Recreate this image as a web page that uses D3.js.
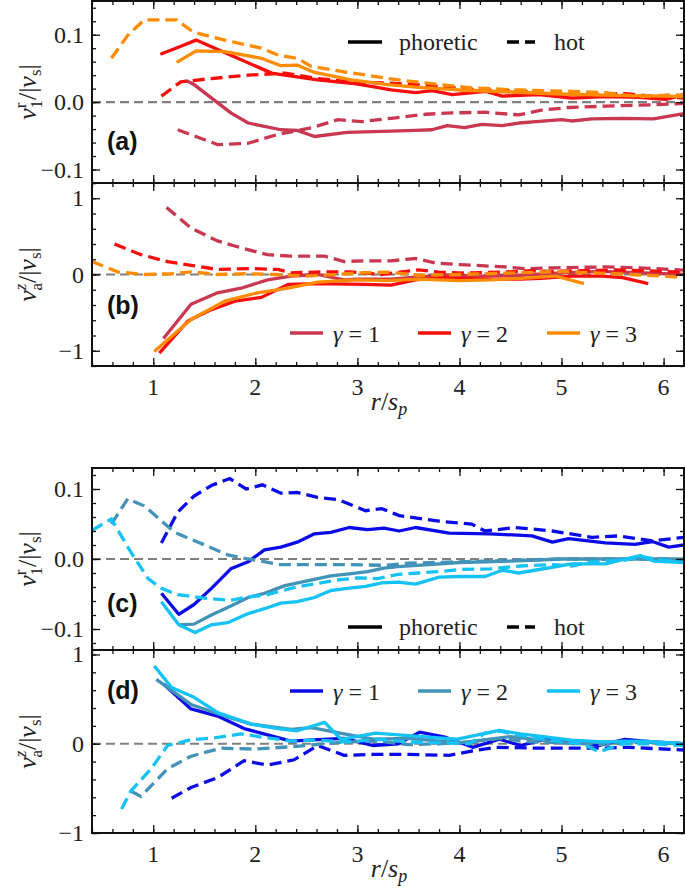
<!DOCTYPE html>
<html><head><meta charset="utf-8">
<script src="https://cdn.jsdelivr.net/npm/d3@7"></script>
<style>body{margin:0;background:#fff}svg{display:block}</style>
</head><body>
<script>
// ---------- DATA ----------
const xTicks = [1, 2, 3, 4, 5, 6];
const gammaLabels = ["1", "2", "3"];
const typeLabels = ["phoretic", "hot"];
const yTicksAC = [0.1, 0.0, -0.1];
const yTickLabelsAC = ["0.1", "0.0", "\u22120.1"];
const yTicksBD = [1, 0, -1];
const yTickLabelsBD = ["1", "0", "\u22121"];

// panel (a): v1^r/|vs|, warm colours
const a_phor_g1 = [[1.32,0.032],[1.40,0.026],[1.76,-0.016],[1.93,-0.031],[2.25,-0.041],[2.41,-0.042],[2.58,-0.051],[2.90,-0.045],[3.33,-0.043],[3.57,-0.042],[3.73,-0.041],[3.88,-0.035],[4.05,-0.038],[4.22,-0.033],[4.42,-0.035],[4.58,-0.031],[4.75,-0.029],[5.00,-0.026],[5.10,-0.028],[5.30,-0.025],[5.60,-0.024],[5.90,-0.025],[6.20,-0.017]];
const a_hot_g1 = [[1.24,-0.041],[1.63,-0.063],[1.93,-0.061],[2.22,-0.048],[2.55,-0.038],[2.81,-0.026],[3.04,-0.029],[3.33,-0.024],[3.67,-0.018],[3.93,-0.016],[4.25,-0.015],[4.58,-0.019],[4.80,-0.012],[5.07,-0.008],[5.43,-0.006],[5.88,-0.004],[6.20,-0.002]];
const a_phor_g2 = [[1.07,0.071],[1.24,0.081],[1.42,0.092],[1.80,0.067],[2.16,0.043],[2.29,0.040],[2.61,0.033],[2.94,0.028],[3.15,0.023],[3.33,0.018],[3.57,0.014],[3.73,0.017],[3.93,0.011],[4.26,0.016],[4.42,0.009],[4.78,0.011],[5.10,0.006],[5.43,0.008],[5.76,0.007],[6.02,0.004],[6.20,0.011]];
const a_hot_g2 = [[1.08,0.009],[1.27,0.030],[1.57,0.035],[1.93,0.040],[2.29,0.043],[2.61,0.035],[2.94,0.030],[3.33,0.028],[3.57,0.026],[3.90,0.022],[4.19,0.018],[4.58,0.017],[4.94,0.011],[5.27,0.011],[5.60,0.013],[5.93,0.008],[6.20,0.006]];
const a_phor_g3 = [[1.23,0.059],[1.42,0.076],[1.70,0.075],[2.06,0.065],[2.25,0.054],[2.41,0.055],[2.58,0.044],[2.94,0.033],[3.30,0.026],[3.60,0.022],[4.00,0.018],[4.50,0.015],[5.00,0.012],[5.50,0.010],[6.00,0.009],[6.20,0.008]];
const a_hot_g3 = [[0.59,0.065],[0.75,0.099],[0.91,0.122],[1.23,0.122],[1.39,0.104],[1.70,0.092],[2.06,0.080],[2.22,0.070],[2.41,0.065],[2.55,0.053],[2.87,0.045],[3.30,0.035],[3.57,0.030],[4.12,0.021],[4.58,0.018],[5.10,0.016],[5.43,0.014],[5.76,0.008],[6.08,0.011],[6.20,0.010]];

// panel (b): va^z/|vs|
const b_phor_g1 = [[1.10,-0.84],[1.37,-0.39],[1.63,-0.24],[1.86,-0.18],[2.12,-0.07],[2.35,-0.02],[2.61,0.0],[2.87,-0.07],[3.00,-0.06],[3.33,-0.06],[3.60,-0.03],[3.90,-0.01],[4.20,-0.02],[4.60,-0.01],[5.00,0.02],[5.40,0.04],[5.80,0.02],[6.20,0.0]];
const b_hot_g1 = [[1.13,0.88],[1.37,0.61],[1.63,0.44],[1.86,0.35],[2.12,0.26],[2.35,0.24],[2.68,0.24],[2.87,0.17],[3.07,0.18],[3.33,0.18],[3.57,0.21],[3.77,0.15],[4.00,0.13],[4.45,0.10],[4.65,0.075],[4.94,0.088],[5.43,0.10],[5.76,0.088],[6.20,0.057]];
const b_phor_g2 = [[1.06,-1.03],[1.34,-0.61],[1.57,-0.46],[1.80,-0.35],[2.06,-0.30],[2.32,-0.13],[2.61,-0.12],[3.07,-0.13],[3.33,-0.14],[3.57,-0.07],[3.80,-0.04],[4.00,-0.05],[4.30,-0.06],[4.60,-0.06],[4.80,-0.05],[5.10,-0.02],[5.40,-0.02],[5.60,-0.04],[5.85,-0.12]];
const b_hot_g2 = [[0.62,0.40],[0.88,0.26],[1.14,0.17],[1.37,0.12],[1.63,0.066],[1.96,0.079],[2.22,0.066],[2.35,0.022],[2.68,0.035],[2.94,0.035],[3.23,0.0],[3.60,0.06],[3.80,0.03],[4.00,0.02],[4.40,0.03],[4.70,0.05],[4.90,0.04],[5.20,0.05],[5.50,0.06],[5.80,0.05],[6.20,0.03]];
const b_phor_g3 = [[1.01,-1.01],[1.37,-0.59],[1.70,-0.35],[2.02,-0.24],[2.32,-0.18],[2.61,-0.10],[2.99,-0.07],[3.30,-0.08],[3.60,-0.06],[4.00,-0.08],[4.30,-0.07],[4.60,-0.05],[4.94,-0.02],[5.22,-0.12]];
const b_hot_g3 = [[0.40,0.17],[0.65,0.035],[0.92,0.0],[1.18,0.01],[1.37,0.035],[1.63,0.0],[1.90,0.01],[2.20,0.0],[2.50,-0.02],[2.80,0.0],[3.00,0.02],[3.30,0.03],[3.60,-0.01],[4.00,0.0],[4.50,0.02],[5.00,0.04],[5.50,0.01],[6.00,-0.02],[6.20,-0.04]];

// panel (c): v1^r/|vs|, cool colours
const c_phor_g1 = [[1.08,-0.049],[1.25,-0.079],[1.40,-0.065],[1.57,-0.042],[1.76,-0.014],[1.93,-0.004],[2.09,0.013],[2.25,0.017],[2.41,0.024],[2.58,0.036],[2.74,0.038],[2.92,0.045],[3.10,0.042],[3.26,0.044],[3.41,0.040],[3.57,0.045],[3.90,0.037],[4.30,0.036],[4.71,0.033],[4.91,0.024],[5.07,0.029],[5.43,0.023],[5.72,0.021],[5.89,0.025],[6.05,0.017],[6.20,0.020]];
const c_hot_g1 = [[1.08,0.023],[1.24,0.067],[1.40,0.090],[1.57,0.105],[1.75,0.115],[1.91,0.100],[2.07,0.106],[2.25,0.094],[2.41,0.095],[2.61,0.088],[2.81,0.085],[3.08,0.069],[3.24,0.072],[3.41,0.062],[3.80,0.054],[4.12,0.050],[4.25,0.040],[4.55,0.045],[4.91,0.040],[5.30,0.031],[5.56,0.033],[5.89,0.026],[6.20,0.031]];
const c_phor_g2 = [[1.25,-0.094],[1.40,-0.093],[1.57,-0.080],[1.76,-0.067],[1.93,-0.055],[2.09,-0.049],[2.29,-0.038],[2.45,-0.033],[2.74,-0.024],[2.94,-0.021],[3.10,-0.018],[3.26,-0.013],[3.40,-0.011],[3.70,-0.008],[4.00,-0.005],[4.50,-0.003],[5.00,0.0],[5.50,0.0],[6.00,0.0],[6.20,0.0]];
const c_hot_g2 = [[0.59,0.050],[0.75,0.086],[0.91,0.076],[1.21,0.038],[1.44,0.024],[1.73,0.006],[1.93,0.0],[2.25,-0.008],[2.51,-0.008],[2.90,-0.008],[3.26,-0.009],[3.50,-0.006],[4.00,-0.004],[4.50,-0.002],[5.00,0.0],[5.50,0.0],[6.00,0.0],[6.20,-0.002]];
const c_phor_g3 = [[1.08,-0.061],[1.25,-0.094],[1.41,-0.105],[1.57,-0.094],[1.73,-0.091],[1.93,-0.078],[2.09,-0.071],[2.25,-0.063],[2.41,-0.061],[2.58,-0.055],[2.74,-0.045],[2.90,-0.042],[3.08,-0.039],[3.24,-0.034],[3.40,-0.033],[3.57,-0.036],[3.80,-0.026],[4.00,-0.025],[4.25,-0.025],[4.42,-0.016],[4.58,-0.020],[4.78,-0.015],[5.10,-0.007],[5.43,-0.007],[5.77,0.005],[5.90,-0.003],[6.20,-0.005]];
const c_hot_g3 = [[0.40,0.041],[0.59,0.057],[0.78,0.010],[0.95,-0.028],[1.08,-0.042],[1.24,-0.051],[1.50,-0.056],[1.76,-0.059],[1.93,-0.054],[2.09,-0.052],[2.40,-0.040],[2.60,-0.035],[2.80,-0.030],[3.00,-0.027],[3.20,-0.028],[3.40,-0.022],[3.60,-0.020],[3.80,-0.018],[4.00,-0.015],[4.30,-0.014],[4.60,-0.010],[4.90,-0.008],[5.10,-0.010],[5.30,-0.004],[5.60,-0.002],[5.80,0.003],[6.00,-0.002],[6.20,-0.003]];

// panel (d): va^z/|vs|
const d_phor_g1 = [[1.10,0.67],[1.37,0.39],[1.63,0.31],[1.89,0.17],[2.12,0.10],[2.35,0.03],[2.61,0.045],[2.87,0.06],[3.15,-0.02],[3.40,0.0],[3.61,0.13],[3.87,0.07],[4.13,-0.04],[4.39,0.05],[4.60,-0.02],[4.87,0.06],[5.10,0.03],[5.37,-0.02],[5.62,0.05],[5.90,0.02],[6.20,0.0]];
const d_hot_g1 = [[1.18,-0.61],[1.37,-0.49],[1.63,-0.38],[1.89,-0.19],[2.12,-0.24],[2.38,-0.18],[2.61,-0.02],[2.87,-0.13],[3.15,-0.12],[3.50,-0.12],[3.90,-0.13],[4.13,-0.08],[4.36,-0.04],[4.80,-0.05],[5.37,-0.05],[5.65,-0.04],[6.20,-0.07]];
const d_phor_g2 = [[1.03,0.72],[1.37,0.44],[1.70,0.31],[1.96,0.22],[2.35,0.16],[2.55,0.18],[2.87,0.11],[3.17,0.05],[3.50,0.06],[4.00,0.01],[4.50,0.08],[4.80,0.04],[5.10,0.0],[5.60,0.03],[6.20,0.0]];
const d_hot_g2 = [[0.78,-0.53],[0.88,-0.59],[1.14,-0.28],[1.37,-0.14],[1.66,-0.05],[2.00,-0.06],[2.40,-0.03],[2.68,0.0],[2.90,0.02],[3.20,0.03],[3.50,-0.01],[3.80,0.0],[4.10,0.02],[4.40,0.06],[4.70,0.02],[5.00,0.01],[5.40,-0.01],[5.80,0.02],[6.20,0.0]];
const d_phor_g3 = [[1.01,0.87],[1.18,0.63],[1.40,0.52],[1.63,0.35],[1.96,0.22],[2.22,0.17],[2.41,0.145],[2.68,0.24],[2.84,0.05],[3.18,0.12],[3.50,0.09],[3.97,0.05],[4.39,0.15],[4.60,0.11],[5.10,0.04],[5.40,0.02],[5.80,0.03],[6.20,0.0]];
const d_hot_g3 = [[0.69,-0.73],[0.78,-0.53],[0.98,-0.28],[1.14,-0.02],[1.37,0.045],[1.63,0.07],[1.86,0.11],[2.09,0.07],[2.35,0.03],[2.60,0.04],[2.90,0.02],[3.20,0.05],[3.50,0.02],[3.80,0.01],[4.10,0.0],[4.25,0.12],[4.40,0.14],[4.70,0.07],[5.00,0.02],[5.20,0.0],[5.37,-0.09],[5.60,0.0],[5.90,0.0],[6.20,-0.02]];

const warmColors = ["#c93750", "#f80d0d", "#ff8c00"];
const coolColors = ["#0b0bea", "#4393b9", "#14c2f5"];

// ---------- DRAW ----------
const W = 685, H = 888;
const L = 92, R = 684;
const SERIF = "'Liberation Serif','DejaVu Serif',serif";
const svg = d3.select("body").append("svg").attr("width", W).attr("height", H);

const x = d3.scaleLinear().domain([0.4, 6.2]).range([L, R]);
const xMinor = d3.range(0.4, 6.21, 0.2).map(v => +v.toFixed(2));

const panels = [
  {id:"a", top:1, bottom:183, dom:[-0.12, 0.15], ticks:yTicksAC, labels:yTickLabelsAC, minor:d3.range(-0.12,0.151,0.02),
   series:[[a_phor_g1,a_hot_g1],[a_phor_g2,a_hot_g2],[a_phor_g3,a_hot_g3]], colors:warmColors, xlab:false, ylab:"r1", legend:"type", legY:42, lab:"(a)", labY:150},
  {id:"b", top:183, bottom:366, dom:[-1.2, 1.2], ticks:yTicksBD, labels:yTickLabelsBD, minor:d3.range(-1.2,1.21,0.2),
   series:[[b_phor_g1,b_hot_g1],[b_phor_g2,b_hot_g2],[b_phor_g3,b_hot_g3]], colors:warmColors, xlab:true, ylab:"az", legend:"gamma", legY:333, lab:"(b)", labY:314},
  {id:"c", top:468, bottom:650, dom:[-0.13, 0.13], ticks:yTicksAC, labels:yTickLabelsAC, minor:d3.range(-0.12,0.131,0.02),
   series:[[c_phor_g1,c_hot_g1],[c_phor_g2,c_hot_g2],[c_phor_g3,c_hot_g3]], colors:coolColors, xlab:false, ylab:"r1", legend:"type", legY:627, lab:"(c)", labY:612},
  {id:"d", top:650, bottom:833, dom:[-1.0, 1.05], ticks:yTicksBD, labels:yTickLabelsBD, minor:d3.range(-1.0,1.01,0.2),
   series:[[d_phor_g1,d_hot_g1],[d_phor_g2,d_hot_g2],[d_phor_g3,d_hot_g3]], colors:coolColors, xlab:true, ylab:"az", legend:"gamma", legY:691, lab:"(d)", labY:699},
];

function txt(sel) { return sel.append("text").attr("font-family", SERIF).attr("fill", "#222"); }

panels.forEach(p => {
  const y = d3.scaleLinear().domain(p.dom).range([p.bottom, p.top]);
  const g = svg.append("g");
  const clipId = "clip-" + p.id;
  g.append("clipPath").attr("id", clipId).append("rect")
    .attr("x", L).attr("y", p.top).attr("width", R - L).attr("height", p.bottom - p.top);

  // zero line
  g.append("line").attr("x1", L).attr("x2", R).attr("y1", y(0)).attr("y2", y(0))
    .attr("stroke", "#808080").attr("stroke-width", 2.2).attr("stroke-dasharray", "9,5");

  const line = d3.line().x(d => x(d[0])).y(d => y(d[1]));
  const lg = g.append("g").attr("clip-path", `url(#${clipId})`);
  p.series.forEach((pair, i) => {
    lg.append("path").datum(pair[1]).attr("d", line).attr("fill", "none")
      .attr("stroke", p.colors[i]).attr("stroke-width", 3.3).attr("stroke-dasharray", "12,6");
    lg.append("path").datum(pair[0]).attr("d", line).attr("fill", "none")
      .attr("stroke", p.colors[i]).attr("stroke-width", 3.3).attr("stroke-linejoin", "round");
  });

  // ticks (inward, all sides)
  const yMinorTicks = p.minor.map(v => +v.toFixed(3));
  const axes = [
    [d3.axisRight(y).tickValues(yMinorTicks).tickSize(4), `translate(${L},0)`],
    [d3.axisRight(y).tickValues(p.ticks).tickSize(8), `translate(${L},0)`],
    [d3.axisLeft(y).tickValues(yMinorTicks).tickSize(4), `translate(${R},0)`],
    [d3.axisLeft(y).tickValues(p.ticks).tickSize(8), `translate(${R},0)`],
    [d3.axisTop(x).tickValues(xMinor).tickSize(4), `translate(0,${p.bottom})`],
    [d3.axisTop(x).tickValues(xTicks).tickSize(8), `translate(0,${p.bottom})`],
    [d3.axisBottom(x).tickValues(xMinor).tickSize(4), `translate(0,${p.top})`],
    [d3.axisBottom(x).tickValues(xTicks).tickSize(8), `translate(0,${p.top})`]
  ];
  axes.forEach(([ax, tr]) => {
    const a = g.append("g").attr("transform", tr).call(ax.tickFormat(""));
    a.select(".domain").remove();
    a.selectAll("line").attr("stroke", "#111").attr("stroke-width", 1.3);
  });
  // frame
  g.append("rect").attr("x", L).attr("y", p.top).attr("width", R - L).attr("height", p.bottom - p.top)
    .attr("fill", "none").attr("stroke", "#111").attr("stroke-width", 2);

  // y tick labels
  p.ticks.forEach((t, i) => {
    txt(g).attr("x", L - 8).attr("y", y(t) + 8).attr("text-anchor", "end")
      .attr("font-size", 24).text(p.labels[i]);
  });
  // x tick labels
  if (p.xlab) {
    xTicks.forEach(t => {
      txt(g).attr("x", x(t)).attr("y", p.bottom + 29).attr("text-anchor", "middle")
        .attr("font-size", 24).text(t);
    });
    const xl = txt(g).attr("x", 389).attr("y", p.bottom + 44).attr("text-anchor", "middle")
      .attr("font-size", 26);
    xl.append("tspan").attr("font-style", "italic").text("r");
    xl.append("tspan").text("/");
    xl.append("tspan").attr("font-style", "italic").text("s");
    xl.append("tspan").attr("font-style", "italic").attr("font-size", 18).attr("dy", 5).text("p");
  }
  // y label
  const cy = (p.top + p.bottom) / 2;
  const yl = txt(g).attr("transform", `translate(36,${cy}) rotate(-90)`).attr("text-anchor", "middle")
    .attr("font-size", 26);
  yl.append("tspan").attr("font-style", "italic").text("v");
  if (p.ylab === "r1") {
    yl.append("tspan").attr("font-size", 17).attr("dy", -10).text("r");
    yl.append("tspan").attr("font-size", 17).attr("dx", -6).attr("dy", 16).text("1");
    yl.append("tspan").attr("dy", -6).text("/|");
  } else {
    yl.append("tspan").attr("font-size", 17).attr("font-style", "italic").attr("dy", -10).text("z");
    yl.append("tspan").attr("font-size", 17).attr("dx", -7).attr("dy", 16).text("a");
    yl.append("tspan").attr("dy", -6).text("/|");
  }
  yl.append("tspan").attr("font-style", "italic").text("v");
  yl.append("tspan").attr("font-size", 17).attr("dy", 5).text("s");
  yl.append("tspan").attr("dy", -5).text("|");

  // panel label (bold sans)
  g.append("text").attr("x", 107).attr("y", p.labY).attr("font-family", "'Liberation Sans',Arial,sans-serif")
    .attr("font-weight", "bold").attr("font-size", 25).attr("fill", "#111").text(p.lab);

  // legends
  const ly = p.legY;
  if (p.legend === "type") {
    g.append("line").attr("x1", 348).attr("x2", 382).attr("y1", ly).attr("y2", ly).attr("stroke", "#000").attr("stroke-width", 3.3);
    txt(g).attr("x", 399).attr("y", ly + 8).attr("font-size", 24).text(typeLabels[0]);
    g.append("line").attr("x1", 507).attr("x2", 535).attr("y1", ly).attr("y2", ly).attr("stroke", "#000").attr("stroke-width", 3.3).attr("stroke-dasharray", "12,6");
    txt(g).attr("x", 554).attr("y", ly + 8).attr("font-size", 24).text(typeLabels[1]);
  } else {
    const sx = [290, 418, 547];
    sx.forEach((s, i) => {
      g.append("line").attr("x1", s).attr("x2", s + 33).attr("y1", ly).attr("y2", ly).attr("stroke", p.colors[i]).attr("stroke-width", 3.3);
      const t = txt(g).attr("x", s + 43).attr("y", ly + 9).attr("font-size", 24);
      t.append("tspan").attr("font-style", "italic").text("\u03b3");
      t.append("tspan").text(" = " + gammaLabels[i]);
    });
  }
});
</script>
</body></html>
